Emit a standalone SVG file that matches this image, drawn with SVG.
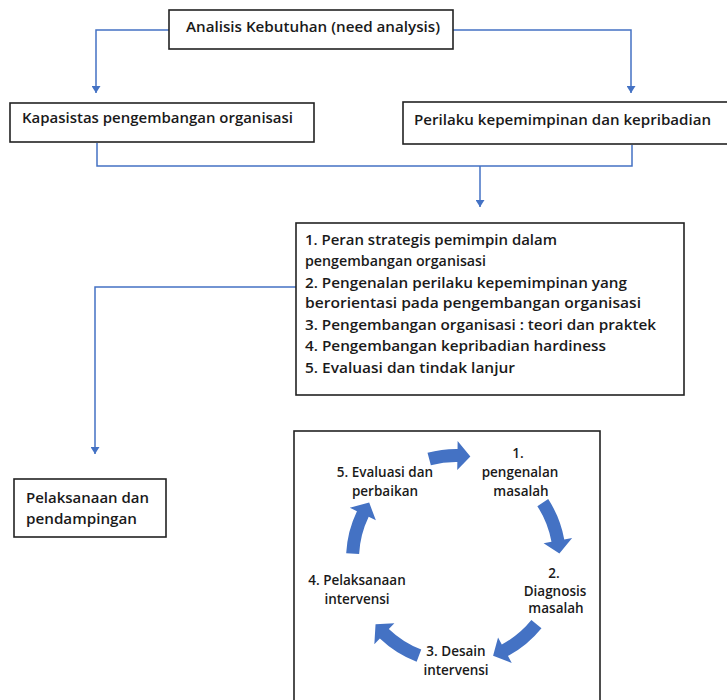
<svg xmlns="http://www.w3.org/2000/svg" xmlns:xlink="http://www.w3.org/1999/xlink" width="727" height="700" viewBox="0 0 727 700">
<style>
.box{fill:#fff;stroke:#222;stroke-width:1.6}
.t{font-family:"Open Sans","Noto Sans",sans-serif;font-weight:600;font-size:14px;fill:#1a1a1a}
.c{font-family:"Open Sans","Noto Sans",sans-serif;font-weight:600;font-size:13.5px;fill:#1a1a1a;text-anchor:middle}
.con{fill:none;stroke:#4472C4;stroke-width:1.5}
.arr{fill:#4472C4}
</style>
<defs>
<marker id="ah" viewBox="0 0 10 10" refX="10" refY="5" markerWidth="7" markerHeight="9" markerUnits="userSpaceOnUse" orient="auto" preserveAspectRatio="none">
<path d="M0,0 L10,5 L0,10 z" fill="#4472C4"/>
</marker>
<path id="carrS" d="M -22.9 -107.6 A 110 110 0 0 1 7.3 -109.8 L 7.8 -117.7 L 19.7 -101.6 L 5.9 -88.8 L 6.4 -96.8 A 97 97 0 0 0 -20.2 -94.9 Z"/>
<path id="carrL" d="M -28.5 -106.2 A 110 110 0 0 1 14.9 -109.0 L 16.0 -116.9 L 26.8 -100.0 L 12.1 -88.2 L 13.2 -96.1 A 97 97 0 0 0 -25.1 -93.7 Z"/>
</defs>
<rect x="0" y="0" width="727" height="700" fill="#fff"/>
<g id="connectors">
<polyline class="con" points="169,30 96,30 96,93" marker-end="url(#ah)"/>
<polyline class="con" points="453,30 631,30 631,93" marker-end="url(#ah)"/>
<polyline class="con" points="97,143 97,166 632,166 632,145"/>
<line class="con" x1="480" y1="166" x2="480" y2="207" marker-end="url(#ah)"/>
<polyline class="con" points="296,287 95,287 95,454" marker-end="url(#ah)"/>
</g>
<g id="need-analysis">
<rect class="box" x="169" y="10" width="284" height="39"/>
<text class="t" x="186" y="32" textLength="254" lengthAdjust="spacingAndGlyphs">Analisis Kebutuhan (need analysis)</text>
</g>
<g id="kapasitas">
<rect class="box" x="10" y="103" width="304" height="39"/>
<text class="t" x="22" y="123" textLength="271" lengthAdjust="spacingAndGlyphs">Kapasistas pengembangan organisasi</text>
</g>
<g id="perilaku">
<rect class="box" x="403" y="102" width="330" height="42"/>
<text class="t" x="414" y="125" textLength="297" lengthAdjust="spacingAndGlyphs">Perilaku kepemimpinan dan kepribadian</text>
</g>
<g id="materi">
<rect class="box" x="296" y="223" width="388" height="172"/>
<text class="t" x="305" y="245" textLength="252" lengthAdjust="spacingAndGlyphs">1. Peran strategis pemimpin dalam</text>
<text class="t" x="305" y="266" textLength="181" lengthAdjust="spacingAndGlyphs">pengembangan organisasi</text>
<text class="t" x="305" y="288" textLength="322" lengthAdjust="spacingAndGlyphs">2. Pengenalan perilaku kepemimpinan yang</text>
<text class="t" x="305" y="308" textLength="336" lengthAdjust="spacingAndGlyphs">berorientasi pada pengembangan organisasi</text>
<text class="t" x="305" y="330" textLength="351" lengthAdjust="spacingAndGlyphs">3. Pengembangan organisasi : teori dan praktek</text>
<text class="t" x="305" y="351" textLength="301" lengthAdjust="spacingAndGlyphs">4. Pengembangan kepribadian hardiness</text>
<text class="t" x="305" y="373" textLength="210" lengthAdjust="spacingAndGlyphs">5. Evaluasi dan tindak lanjur</text>
</g>
<g id="pelaksanaan">
<rect class="box" x="14" y="479" width="152" height="58"/>
<text class="t" x="26" y="503" textLength="123" lengthAdjust="spacingAndGlyphs">Pelaksanaan dan</text>
<text class="t" x="26" y="524" textLength="111" lengthAdjust="spacingAndGlyphs">pendampingan</text>
</g>
<g id="siklus">
<rect class="box" x="294" y="431" width="306" height="280"/>
<g class="arr" transform="translate(456 559)">
<use xlink:href="#carrS" transform="rotate(-3)"/>
<use xlink:href="#carrL" transform="rotate(72)"/>
<use xlink:href="#carrL" transform="rotate(144)"/>
<use xlink:href="#carrL" transform="rotate(216)"/>
<use xlink:href="#carrL" transform="rotate(288)"/>
</g>
<text class="c" x="518" y="458">1.</text>
<text class="c" x="520" y="477">pengenalan</text>
<text class="c" x="521" y="496">masalah</text>
<text class="c" x="554" y="578">2.</text>
<text class="c" x="555" y="596">Diagnosis</text>
<text class="c" x="556" y="613">masalah</text>
<text class="c" x="456" y="656">3. Desain</text>
<text class="c" x="456" y="675">intervensi</text>
<text class="c" x="357" y="585">4. Pelaksanaan</text>
<text class="c" x="357" y="604">intervensi</text>
<text class="c" x="385" y="477">5. Evaluasi dan</text>
<text class="c" x="385" y="496">perbaikan</text>
</g>
</svg>
